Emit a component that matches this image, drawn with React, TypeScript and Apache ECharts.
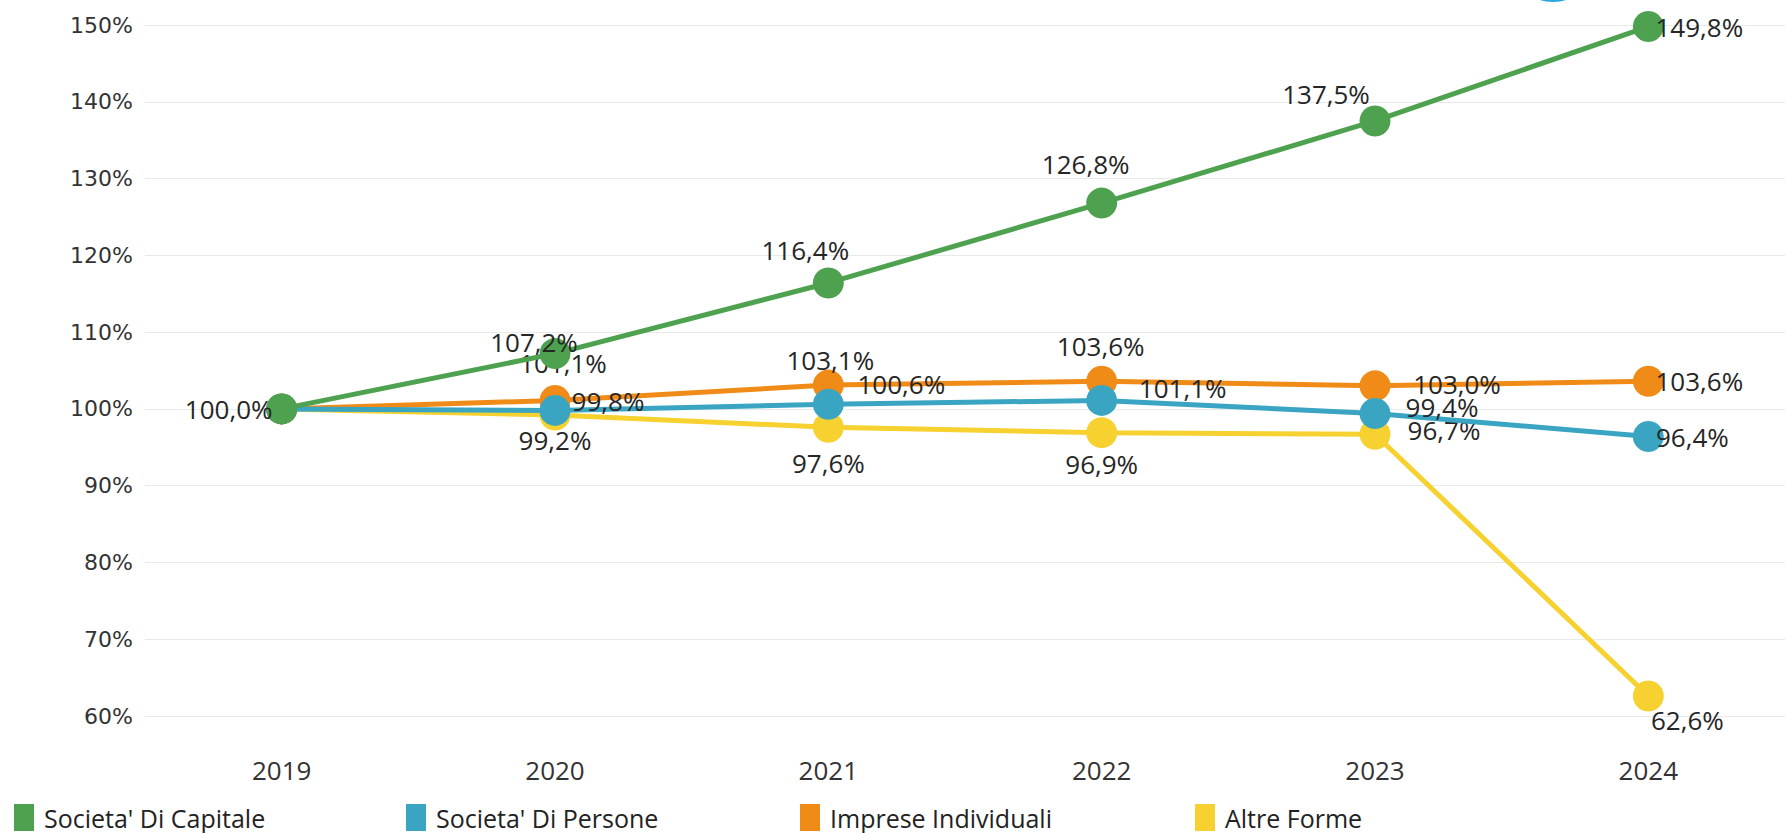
import React, { useEffect, useRef } from "react";
import * as echarts from "echarts";

const years = ["2019", "2020", "2021", "2022", "2023", "2024"];
const seriesNames = ["Societa' Di Capitale", "Societa' Di Persone", "Imprese Individuali", "Altre Forme"];
const capitale = [100.0, 107.2, 116.4, 126.8, 137.5, 149.8];
const persone = [100.0, 99.8, 100.6, 101.1, 99.4, 96.4];
const individuali = [100.0, 101.1, 103.1, 103.6, 103.0, 103.6];
const altre = [100.0, 99.2, 97.6, 96.9, 96.7, 62.6];
const yTicks = [60, 70, 80, 90, 100, 110, 120, 130, 140, 150];

// label offsets (px from point centre); null = hidden
const capOff: ([number, number] | null)[] = [[-53, 0], [-21, -12], [-23, -33], [-16, -39], [-49, -27], [51, 0]];
const perOff: ([number, number] | null)[] = [null, [53, -9], [73, -20], [81, -12], [67, -6], [44, 0]];
const indOff: ([number, number] | null)[] = [null, [8, -37], [2, -25], [-1, -35], [82, -2], [51, 0]];
const altOff: ([number, number] | null)[] = [null, [0, 25], [0, 36], [0, 31], [69, -4], [39, 24]];

const colors = { cap: "#4ea24f", per: "#3aa5c2", ind: "#f08b17", alt: "#f6d130" };
const SYM = 31;

function fmt(v: number) {
  return v.toFixed(1).replace(".", ",") + "%";
}

function buildData(values: number[], offs: ([number, number] | null)[]) {
  return values.map((v, i) => {
    const o = offs[i];
    if (!o) return { value: v, label: { show: false } };
    return {
      value: v,
      label: {
        show: true,
        position: [SYM / 2 + o[0], SYM / 2 + o[1]],
        align: "center",
        verticalAlign: "middle",
      },
    };
  });
}

function makeSeries(name: string, values: number[], offs: ([number, number] | null)[], color: string, z: number) {
  return {
    name,
    type: "line",
    data: buildData(values, offs),
    symbol: "circle",
    symbolSize: SYM,
    z,
    itemStyle: { color },
    lineStyle: { color, width: 5 },
    label: {
      show: true,
      formatter: (p: any) => fmt(p.value),
      fontFamily: "Open Sans",
      fontSize: 26,
      color: "#262626",
    },
  };
}

export default function App() {
  const ref = useRef<HTMLDivElement>(null);
  useEffect(() => {
    if (!ref.current) return;
    const chart = echarts.init(ref.current, undefined, { renderer: "svg" });
    const legendLefts = [14, 406, 800, 1195];
    const legendColors = [colors.cap, colors.per, colors.ind, colors.alt];
    chart.setOption({
      animation: false,
      backgroundColor: "#ffffff",
      grid: { left: 145, top: 25, width: 1644, bottom: 117 },
      xAxis: {
        type: "category",
        data: years,
        boundaryGap: true,
        axisLine: { show: false },
        axisTick: { show: false },
        axisLabel: { margin: 41, fontFamily: "Open Sans", fontSize: 26, color: "#333" },
      },
      yAxis: {
        type: "value",
        min: yTicks[0],
        max: yTicks[yTicks.length - 1],
        interval: 10,
        axisLine: { show: false },
        axisTick: { show: false },
        splitLine: { lineStyle: { color: "#e9e9e9", width: 1 } },
        axisLabel: {
          formatter: (v: number) => `${v}%`,
          margin: 12,
          fontFamily: "DejaVu Sans",
          fontSize: 22,
          color: "#333",
        },
      },
      legend: seriesNames.map((n, i) => ({
        data: [{ name: n, itemStyle: { color: legendColors[i] } }],
        left: legendLefts[i],
        top: 804,
        padding: 0,
        icon: "rect",
        itemWidth: 20,
        itemHeight: 27,
        itemGap: 0,
        textStyle: { fontFamily: "Open Sans", fontSize: 25, color: "#222", padding: [0, 0, 0, 5] },
      })),
      graphic: [
        {
          type: "ellipse",
          shape: { cx: 1553, cy: -8, rx: 22, ry: 10 },
          style: { fill: "#2aa6e0" },
          silent: true,
        },
      ],
      series: [
        makeSeries(seriesNames[3], altre, altOff, colors.alt, 2),
        makeSeries(seriesNames[2], individuali, indOff, colors.ind, 3),
        makeSeries(seriesNames[1], persone, perOff, colors.per, 4),
        makeSeries(seriesNames[0], capitale, capOff, colors.cap, 5),
      ],
    });
    return () => chart.dispose();
  }, []);
  return (
    <div
      ref={ref}
      style={{ position: "fixed", left: 0, top: 0, width: 1785, height: 833, background: "#fff" }}
    />
  );
}
